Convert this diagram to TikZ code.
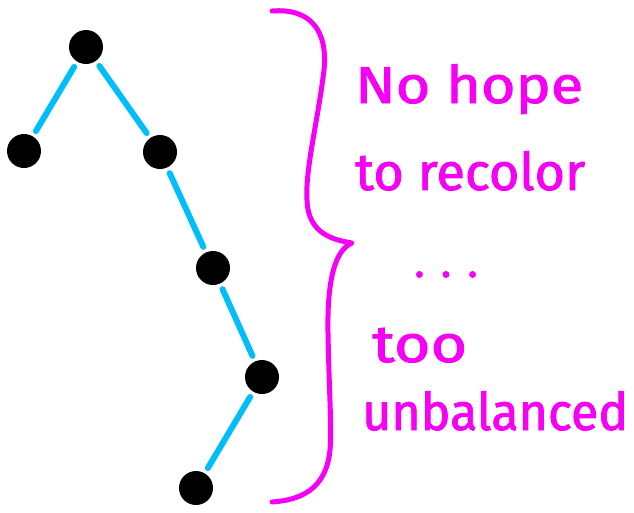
\documentclass[tikz,border=0pt]{standalone}
\usepackage{fontspec}
\setmainfont{Fira Sans}
\newfontfamily\inkfont[FakeBold=1.6]{Fira Sans}
\usepackage{graphicx}
\definecolor{edgecyan}{RGB}{0,190,250}
\definecolor{inkmag}{RGB}{245,0,245}
\newcommand{\wfit}[2]{\resizebox{#1}{\height}{#2}}
\begin{document}
\begin{tikzpicture}[x=1pt,y=-1pt,
  dot/.style={circle,fill=black,minimum size=34pt,inner sep=0pt},
  edge/.style={edgecyan,line width=6pt,line cap=round,shorten <=6pt,shorten >=6pt},
  ink/.style={inkmag,anchor=base west,inner sep=0pt,text=inkmag,font=\inkfont\fontsize{52}{52}\selectfont}]
\useasboundingbox (0,0) rectangle (634,512);
\node[dot] (A) at (86,47) {};
\node[dot] (B) at (24,151) {};
\node[dot] (C) at (160,152) {};
\node[dot] (D) at (213,268) {};
\node[dot] (E) at (262,377) {};
\node[dot] (F) at (196,488) {};
\draw[edge] (A) -- (B);
\draw[edge] (A) -- (C);
\draw[edge] (C) -- (D);
\draw[edge] (D) -- (E);
\draw[edge] (E) -- (F);
\coordinate (btop) at (272,11);
\coordinate (btip) at (352,243);
\coordinate (bbot) at (272,502);
\draw[inkmag,line width=5pt,line cap=round,line join=round]
  (btop) .. controls (310,8) and (328,30) .. (324,70)
  .. controls (318,120) and (305,170) .. (307,200)
  .. controls (308,235) and (335,240) .. (btip)
  .. controls (335,250) and (327,280) .. (328,333)
  .. controls (329,390) and (332,430) .. (330,450)
  .. controls (326,490) and (300,500) .. (bbot);
\node[ink] (t1) at (355,103) {\wfit{228pt}{No hope}};
\node[ink] (t2) at (355,190) {\wfit{230pt}{to recolor}};
\node[ink,font=\inkfont\fontsize{44}{44}\selectfont] (t3) at (414,277) {.\hspace{16pt}.\hspace{16pt}.};
\node[ink] (t4) at (372,362) {\wfit{95pt}{too}};
\node[ink] (t5) at (362,430) {\wfit{266pt}{unbalanced}};
\end{tikzpicture}
\end{document}
